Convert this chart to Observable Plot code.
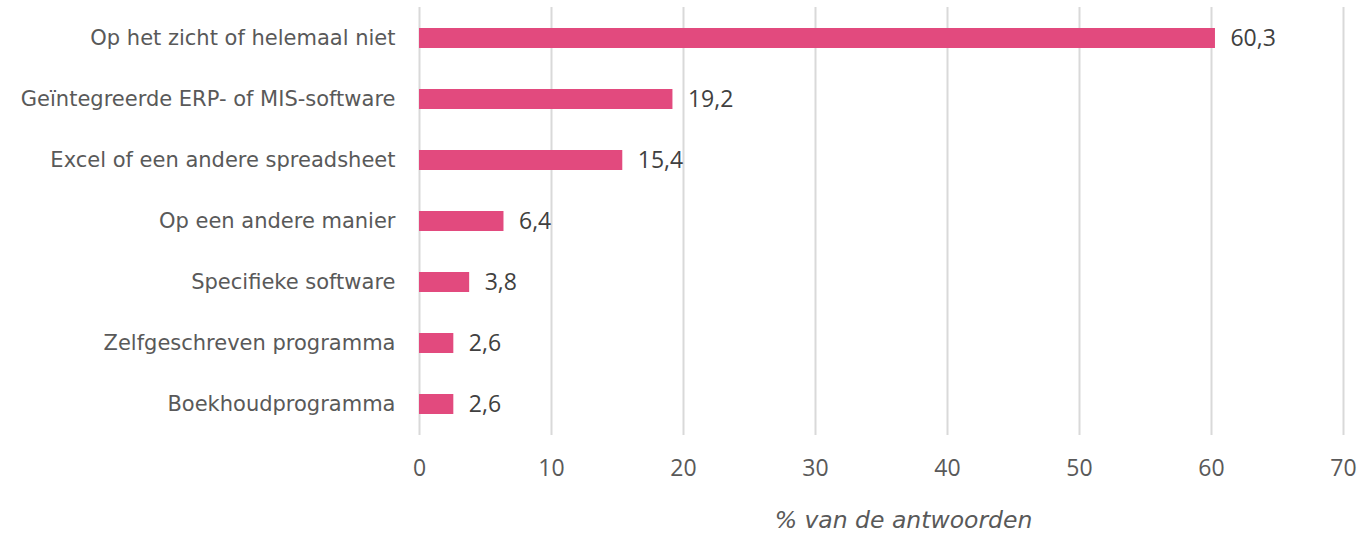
<!DOCTYPE html>
<html><head><meta charset="utf-8">
<script src="https://cdn.jsdelivr.net/npm/d3@7"></script>
<script src="https://cdn.jsdelivr.net/npm/@observablehq/plot@0.6"></script>
<style>body{margin:0;background:#fff}</style>
</head><body><div id="chart"></div>
<script>
const categories = ["Op het zicht of helemaal niet","Geïntegreerde ERP- of MIS-software","Excel of een andere spreadsheet","Op een andere manier","Specifieke software","Zelfgeschreven programma","Boekhoudprogramma"];
const values = [60.3, 19.2, 15.4, 6.4, 3.8, 2.6, 2.6];
const xTicks = [0,10,20,30,40,50,60,70];
const xTitle = "% van de antwoorden";
const data = categories.map((c,i)=>({cat:c, v:values[i]}));
const fmt = v => v.toFixed(1).replace(".", ",");

const chart = Plot.plot({
  width: 1359, height: 541,
  marginLeft: 419, marginRight: 16, marginTop: 7, marginBottom: 106,
  style: {background:"#fff", fontFamily:"'DejaVu Sans', sans-serif"},
  x: {domain:[0,70], ticks: xTicks},
  y: {domain: categories, paddingInner: 0.672, paddingOuter: 0.344},
  marks: [
    Plot.ruleX(xTicks, {stroke:"#d9d9d9", strokeWidth:2}),
    Plot.barX(data, {x:"v", y:"cat", fill:"#e24a7e"}),
    Plot.text(data, {x:"v", y:"cat", text:d=>fmt(d.v), textAnchor:"start", dx:15, fontSize:23, fill:"#404040", fontFamily:"'Open Sans', sans-serif"}),
    Plot.axisY({tickSize:0, tickPadding:24, fontSize:21, fill:"#595959", label:null}),
    Plot.axisX({ticks:xTicks, tickSize:0, tickPadding:24, fontSize:23, fill:"#595959", label:null, fontFamily:"'Open Sans', sans-serif"}),
    Plot.text([xTitle], {frameAnchor:"bottom", dy:92, dx:22, text:d=>d, fontSize:23.5, fontStyle:"italic", fill:"#595959"})
  ]
});
document.getElementById("chart").appendChild(chart);
</script></body></html>
